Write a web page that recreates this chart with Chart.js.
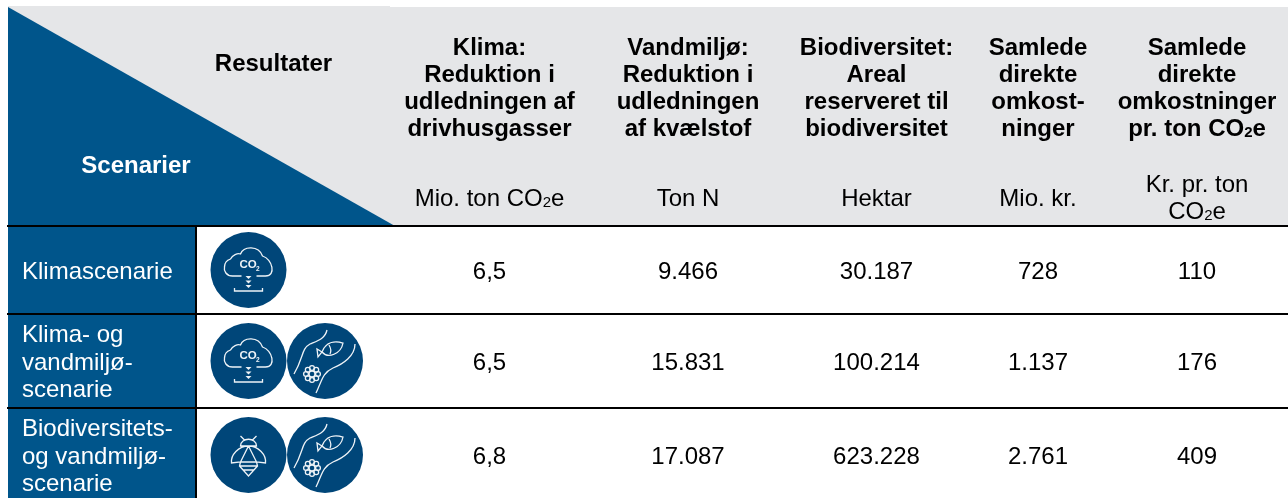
<!DOCTYPE html>
<html lang="da">
<head>
<meta charset="utf-8">
<title>Scenarier og resultater</title>
<script src="https://cdn.jsdelivr.net/npm/chart.js@4"></script>
<style>
	html, body { margin: 0; padding: 0; background: #fff; }
	canvas { display: block; }
</style>
</head>
<body>
<canvas id="myChart" width="1288" height="498"></canvas>
<script>
// Table contents, "_2" means a subscript 2
const scenarios = [
	['Klimascenarie'],
	['Klima- og', 'vandmiljø-', 'scenarie'],
	['Biodiversitets-', 'og vandmiljø-', 'scenarie']
];
const headers = [
	['Klima:', 'Reduktion i', 'udledningen af', 'drivhusgasser'],
	['Vandmiljø:', 'Reduktion i', 'udledningen', 'af kvælstof'],
	['Biodiversitet:', 'Areal', 'reserveret til', 'biodiversitet'],
	['Samlede', 'direkte', 'omkost-', 'ninger'],
	['Samlede', 'direkte', 'omkostninger', 'pr. ton CO_2e']
];
const units = [
	['Mio. ton CO_2e'],
	['Ton N'],
	['Hektar'],
	['Mio. kr.'],
	['Kr. pr. ton', 'CO_2e']
];
const klimaValues = [6.5, 6.5, 6.8];
const vandmiljoValues = [9466, 15831, 17087];
const biodiversitetValues = [30187, 100214, 623228];
const omkostningValues = [728, 1137, 2761];
const prTonValues = [110, 176, 409];
const scenarioIcons = [['co2'], ['co2', 'river'], ['bee', 'river']];

// Layout, in canvas units
const colX = [489.5, 688, 876.5, 1038, 1197];
const rowY = [271, 362, 456];
const ruleY = [226, 314, 408];
const iconX = [248.5, 325];
const iconY = [270, 361, 455];

const BLUE = '#00558b';
const ICON_BLUE = '#004679';
const GREY = '#e5e6e8';
const FONT = '"Liberation Sans", Arial, sans-serif';
const BODY_SIZE = 24;
const HEAD_SIZE = 24;

function formatValue(v, decimals) {
	if (decimals) return v.toFixed(decimals).replace('.', ',');
	return String(v).replace(/\B(?=(\d{3})+$)/g, '.');
}

// text with optional small 2, centered on x
function drawRich(ctx, text, x, y, size, weight, align) {
	const parts = text.split('_2');
	const big = `${weight} ${size}px ${FONT}`;
	const small = `${weight} ${Math.round(size * 0.62)}px ${FONT}`;
	ctx.textBaseline = 'alphabetic';
	ctx.textAlign = 'left';
	ctx.font = big;
	let width = ctx.measureText(parts.join('')).width;
	if (parts.length > 1) {
		ctx.font = small;
		width += ctx.measureText('2').width;
	}
	let cx = align === 'left' ? x : x - width / 2;
	const base = y + size * 0.32;
	parts.forEach((part, i) => {
		if (i > 0) {
			ctx.font = small;
			ctx.fillText('2', cx, base + size * 0.05);
			cx += ctx.measureText('2').width;
		}
		ctx.font = big;
		ctx.fillText(part, cx, base);
		cx += ctx.measureText(part).width;
	});
}

function drawCo2(ctx) {
	ctx.beginPath();
	ctx.moveTo(-7, 6);
	ctx.lineTo(-16, 6);
	ctx.bezierCurveTo(-22, 6, -25, 1, -24, -3);
	ctx.bezierCurveTo(-24, -7, -21, -10, -18, -11);
	ctx.bezierCurveTo(-16, -15, -11, -17, -8, -16);
	ctx.bezierCurveTo(-5, -24, 10, -25, 14, -14);
	ctx.bezierCurveTo(24, -11, 28, 6, 17, 6);
	ctx.lineTo(8, 6);
	ctx.moveTo(-14, 18);
	ctx.lineTo(-14, 21);
	ctx.lineTo(14, 21);
	ctx.lineTo(14, 18);
	ctx.stroke();
	[6, 10.5, 15].forEach((y) => {
		ctx.beginPath();
		ctx.moveTo(-3, y);
		ctx.lineTo(3, y);
		ctx.lineTo(0, y + 3);
		ctx.closePath();
		ctx.fill();
	});
	ctx.font = `bold 11.5px ${FONT}`;
	ctx.textAlign = 'left';
	ctx.textBaseline = 'alphabetic';
	ctx.fillText('CO', -9, -2);
	ctx.font = `bold 6.5px ${FONT}`;
	ctx.fillText('2', 7.5, 1);
}

function drawRiver(ctx) {
	ctx.beginPath();
	ctx.moveTo(2, -31);
	ctx.bezierCurveTo(0, -22, -8, -20, -15, -17);
	ctx.bezierCurveTo(-24, -12, -21, -4, -31, 13);
	ctx.moveTo(30, -17);
	ctx.bezierCurveTo(30, -5, 18, 3, 8, 7);
	ctx.bezierCurveTo(-3, 12, -3, 20, -9, 32);
	// fish
	ctx.moveTo(-3, -9);
	ctx.bezierCurveTo(1, -20, 11, -20, 18, -18);
	ctx.bezierCurveTo(16, -7, 3, -2, -3, -9);
	ctx.moveTo(-3, -9);
	ctx.lineTo(-8, -12);
	ctx.lineTo(-7, -4);
	ctx.closePath();
	ctx.moveTo(4, -16);
	ctx.quadraticCurveTo(7, -11, 5, -7);
	ctx.stroke();
	// flower
	for (let i = 0; i < 8; i++) {
		const a = i * Math.PI / 4;
		ctx.beginPath();
		ctx.arc(-13 + Math.cos(a) * 6, 13 + Math.sin(a) * 6, 2.4, 0, Math.PI * 2);
		ctx.stroke();
	}
	ctx.beginPath();
	ctx.arc(-13, 13, 3, 0, Math.PI * 2);
	ctx.stroke();
}

function drawBee(ctx) {
	ctx.beginPath();
	// antennas and head
	ctx.moveTo(-8, -19);
	ctx.lineTo(-4, -15);
	ctx.moveTo(8, -19);
	ctx.lineTo(4, -15);
	ctx.moveTo(-8, -9);
	ctx.bezierCurveTo(-8, -18, 8, -18, 8, -9);
	ctx.closePath();
	// wings
	ctx.moveTo(0, -9);
	ctx.bezierCurveTo(-10, -9, -18, 0, -17, 8);
	ctx.lineTo(-8, 7);
	ctx.lineTo(0, -9);
	ctx.bezierCurveTo(10, -9, 18, 0, 17, 8);
	ctx.lineTo(8, 7);
	ctx.lineTo(0, -9);
	// body
	ctx.moveTo(-8, 7);
	ctx.lineTo(-9, 11);
	ctx.lineTo(0, 21);
	ctx.lineTo(9, 11);
	ctx.lineTo(8, 7);
	ctx.moveTo(-8, 7);
	ctx.lineTo(8, 7);
	ctx.moveTo(-9, 11);
	ctx.lineTo(9, 11);
	ctx.moveTo(-6, 15);
	ctx.lineTo(6, 15);
	ctx.stroke();
}

const glyphs = { co2: drawCo2, river: drawRiver, bee: drawBee };

const resultColumns = [
	{ values: klimaValues, decimals: 1 },
	{ values: vandmiljoValues, decimals: 0 },
	{ values: biodiversitetValues, decimals: 0 },
	{ values: omkostningValues, decimals: 0 },
	{ values: prTonValues, decimals: 0 }
];

// one invisible point per table cell, the plugin writes the value there
const cellDatasets = resultColumns.map((col, c) => ({
	label: 'kolonne ' + c,
	data: col.values.map((v, r) => ({ x: colX[c], y: rowY[r], text: formatValue(v, col.decimals) })),
	pointRadius: 0
}));

const iconPoints = [];
scenarioIcons.forEach((icons, r) => {
	icons.forEach((name, i) => iconPoints.push({ x: iconX[i], y: iconY[r], icon: name }));
});

const tablePlugin = {
	id: 'tablePlugin',
	beforeDatasetsDraw(chart) {
		const { ctx, scales: { x, y } } = chart;
		const px = (v) => x.getPixelForValue(v);
		const py = (v) => y.getPixelForValue(v);
		ctx.save();
		// header background
		ctx.fillStyle = GREY;
		ctx.fillRect(px(8), py(6), px(390) - px(8), py(226) - py(6));
		ctx.fillRect(px(390), py(7), px(1288) - px(390), py(226) - py(7));
		ctx.fillStyle = BLUE;
		ctx.beginPath();
		ctx.moveTo(px(8), py(7));
		ctx.lineTo(px(395), py(226));
		ctx.lineTo(px(8), py(226));
		ctx.closePath();
		ctx.fill();
		// scenario column
		ctx.fillRect(px(8), py(226), px(195) - px(8), py(498) - py(226));
		// rules
		ctx.strokeStyle = '#000';
		ctx.lineWidth = 2;
		ctx.beginPath();
		ruleY.forEach((r) => {
			ctx.moveTo(px(7), py(r));
			ctx.lineTo(px(1288), py(r));
		});
		ctx.moveTo(px(196), py(226));
		ctx.lineTo(px(196), py(498));
		ctx.stroke();
		ctx.restore();
	},
	afterDatasetsDraw(chart) {
		const { ctx, scales: { x, y } } = chart;
		const px = (v) => x.getPixelForValue(v);
		const py = (v) => y.getPixelForValue(v);
		ctx.save();
		ctx.fillStyle = '#000';
		drawRich(ctx, 'Resultater', px(273.5), py(63), HEAD_SIZE, 'bold');
		headers.forEach((lines, c) => {
			lines.forEach((line, l) => {
				drawRich(ctx, line, px(colX[c]), py(47 + l * 27), HEAD_SIZE, 'bold');
			});
		});
		units.forEach((lines, c) => {
			const top = lines.length > 1 ? 184 : 198;
			lines.forEach((line, l) => {
				drawRich(ctx, line, px(colX[c]), py(top + l * 27), BODY_SIZE, 'normal');
			});
		});
		ctx.fillStyle = '#fff';
		drawRich(ctx, 'Scenarier', px(136), py(165), HEAD_SIZE, 'bold');
		scenarios.forEach((lines, r) => {
			const first = rowY[r] - (lines.length - 1) * 27.5 / 2;
			lines.forEach((line, l) => {
				drawRich(ctx, line, px(22), py(first + l * 27.5), BODY_SIZE, 'normal', 'left');
			});
		});
		// values on the points of the cell datasets
		ctx.fillStyle = '#000';
		cellDatasets.forEach((ds, d) => {
			chart.getDatasetMeta(d).data.forEach((el, i) => {
				drawRich(ctx, ds.data[i].text, el.x, el.y, BODY_SIZE, 'normal');
			});
		});
		// icon glyphs on top of the circles
		const iconMeta = chart.getDatasetMeta(cellDatasets.length);
		iconMeta.data.forEach((el, i) => {
			ctx.save();
			ctx.translate(el.x, el.y);
			ctx.strokeStyle = '#eef3f7';
			ctx.fillStyle = '#eef3f7';
			ctx.lineWidth = 1.3;
			glyphs[iconPoints[i].icon](ctx);
			ctx.restore();
		});
		ctx.restore();
	}
};

const ctx = document.getElementById('myChart').getContext('2d');
const myChart = new Chart(ctx, {
	type: 'scatter',
	data: {
		datasets: [
			...cellDatasets,
			{
				label: 'ikoner',
				data: iconPoints,
				pointRadius: 38,
				pointBorderWidth: 0,
				pointBackgroundColor: ICON_BLUE,
				clip: false
			}
		]
	},
	options: {
		responsive: false,
		animation: false,
		layout: { padding: 0, autoPadding: false },
		plugins: {
			legend: { display: false },
			tooltip: { enabled: false }
		},
		scales: {
			x: { type: 'linear', display: false, min: 0, max: 1288 },
			y: { type: 'linear', display: false, min: 0, max: 498, reverse: true }
		}
	},
	plugins: [tablePlugin]
});
</script>
</body>
</html>
